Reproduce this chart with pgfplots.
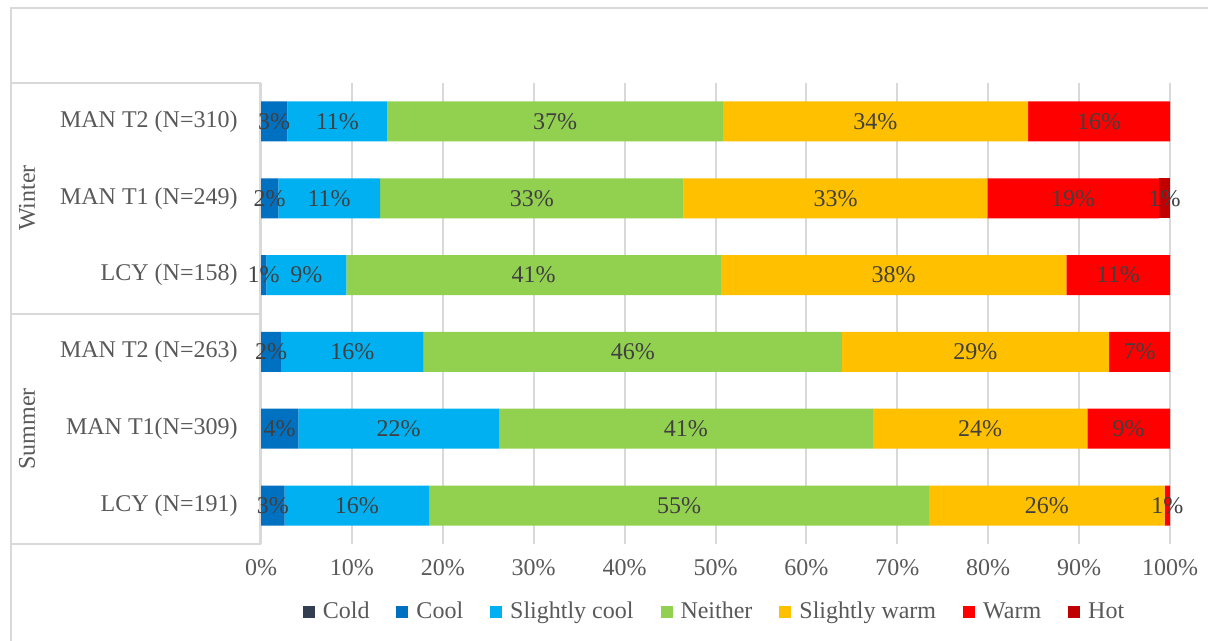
\documentclass[border=0pt]{standalone}
\usepackage{pgfplots}
\pgfplotsset{compat=1.18}
\usepackage{pgfplotstable}
\usepackage{fontspec}
\setmainfont{Liberation Serif}
\definecolor{cCold}{HTML}{333F50}
\definecolor{cCool}{HTML}{0070C0}
\definecolor{cSC}{HTML}{00B0F0}
\definecolor{cNeither}{HTML}{92D050}
\definecolor{cSW}{HTML}{FFC000}
\definecolor{cWarm}{HTML}{FF0000}
\definecolor{cHot}{HTML}{C00000}
\definecolor{gridc}{HTML}{D9D9D9}
\definecolor{tickc}{HTML}{595959}
\definecolor{labc}{HTML}{404040}
\pgfplotstableread{
y Cold Cool SC Neither SW Warm Hot
0 0 2.6 15.9 55.0 25.9 0.6 0
1 0 4.1 22.1 41.1 23.6 9.1 0
2 0 2.2 15.7 46.0 29.4 6.7 0
3 0 0.6 8.8 41.2 38.0 11.4 0
4 0 1.9 11.2 33.4 33.4 18.9 1.2
5 0 2.9 11.0 36.9 33.6 15.6 0
}\datatable
\newcommand\fs{\fontsize{12}{14}\selectfont}
\begin{document}
\begin{tikzpicture}
\useasboundingbox (0pt,0pt) rectangle (604pt,320.5pt);
\fill[white] (0pt,0pt) rectangle (604pt,320.5pt);
\draw[gridc, line width=1pt] (5.5pt,0pt) -- (5.5pt,316.5pt) -- (604pt,316.5pt);
\draw[gridc, line width=1pt] (5.5pt,279pt) -- (130pt,279pt) -- (130pt,48.5pt) -- (5.5pt,48.5pt);
\draw[gridc, line width=1pt] (5.5pt,163.5pt) -- (130pt,163.5pt);
\node[rotate=90, text=tickc, font=\fs, inner sep=0pt] at (13.5pt,221.5pt) {Winter};
\node[rotate=90, text=tickc, font=\fs, inner sep=0pt] at (13.5pt,106pt) {Summer};
\begin{axis}[
  at={(130.5pt,48.5pt)}, anchor=south west,
  scale only axis, width=454.5pt, height=230.5pt,
  xbar stacked, bar width=20pt,
  xmin=0, xmax=100, ymin=-0.5, ymax=5.5,
  xtick={0,10,...,100},
  xticklabel={\pgfmathprintnumber{\tick}\%},
  ytick={0,1,2,3,4,5},
  yticklabels={LCY (N=191),MAN T1(N=309),MAN T2 (N=263),LCY (N=158),MAN T1 (N=249),MAN T2 (N=310)},
  /pgf/number format/assume math mode=true,
  xmajorgrids, grid style={gridc, line width=1pt},
  axis line style={draw=none}, tick style={draw=none},
  major tick length=0pt,
  ticklabel style={font=\fs, text=tickc, inner sep=0pt},
  xticklabel style={anchor=north, yshift=-7.5pt},
  yticklabel style={anchor=east, xshift=-11.5pt},
  legend style={draw=none, fill=none, font=\fs, text=tickc,
    at={(0.5,-0.1475)}, anchor=center, legend columns=-1,
    /tikz/every even column/.append style={column sep=11.5pt}},
  legend image code/.code={\fill[#1] (0pt,-3pt) rectangle (6pt,3pt); \path (8pt,0pt);},
  seg/.style={fill=#1, draw=none},
  raw/.style={visualization depends on={\thisrow{#1} \as \rawx}},
  nodes near coords={\pgfmathparse{\rawx>0.01?1:0}\ifdim\pgfmathresult pt>0.5pt \pgfmathprintnumber[fixed,precision=0]{\rawx}\%\fi},
  every node near coord/.append style={anchor=center, font=\fs, text=labc, inner sep=0pt},
]
\addplot[seg=cCold, raw=Cold] table[x=Cold, y=y] {\datatable};
\addplot[seg=cCool, raw=Cool] table[x=Cool, y=y] {\datatable};
\addplot[seg=cSC, raw=SC] table[x=SC, y=y] {\datatable};
\addplot[seg=cNeither, raw=Neither] table[x=Neither, y=y] {\datatable};
\addplot[seg=cSW, raw=SW] table[x=SW, y=y] {\datatable};
\addplot[seg=cWarm, raw=Warm] table[x=Warm, y=y] {\datatable};
\addplot[seg=cHot, raw=Hot] table[x=Hot, y=y] {\datatable};
\legend{Cold,Cool,Slightly cool,Neither,Slightly warm,Warm,Hot}
\end{axis}
\end{tikzpicture}
\end{document}
